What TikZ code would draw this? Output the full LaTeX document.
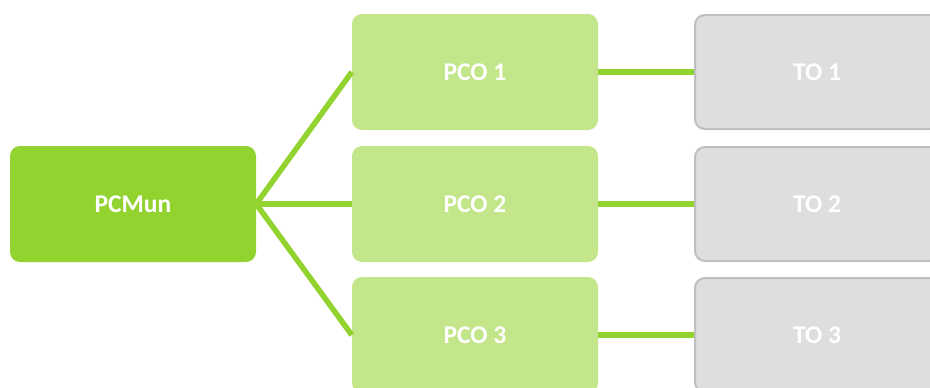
\documentclass[tikz,border=0pt]{standalone}
\usepackage{fontspec}
\setmainfont{Carlito}
\definecolor{mungreen}{HTML}{92D32F}
\definecolor{pcogreen}{HTML}{C3E68A}
\definecolor{tofill}{HTML}{DEDEDE}
\definecolor{toborder}{HTML}{BFBFBF}
\begin{document}
\begin{tikzpicture}[x=1pt,y=-1pt,
  box/.style={rounded corners=10pt,minimum width=246pt,minimum height=116pt,inner sep=0pt,text=white,font=\bfseries\fontsize{25.5}{30}\selectfont},
  munbox/.style={box,fill=mungreen},
  pcobox/.style={box,fill=pcogreen},
  tobox/.style={box,fill=tofill,draw=toborder,line width=2pt,minimum width=244pt,minimum height=114pt},
  link/.style={draw=mungreen,line width=5.5pt}]
\useasboundingbox (0,0) rectangle (930,388);
\node[munbox] (mun) at (133,204) {PCMun};
\node[pcobox] (p1) at (475,72) {PCO 1};
\node[pcobox] (p2) at (475,204) {PCO 2};
\node[pcobox] (p3) at (475,335) {PCO 3};
\node[tobox] (t1) at (817,72) {TO 1};
\node[tobox] (t2) at (817,204) {TO 2};
\node[tobox] (t3) at (817,335) {TO 3};
\draw[link] (mun.east) -- (p1.west);
\draw[link] (mun.east) -- (p2.west);
\draw[link] (mun.east) -- (p3.west);
\draw[link] (p1.east) -- (t1.west);
\draw[link] (p2.east) -- (t2.west);
\draw[link] (p3.east) -- (t3.west);
\end{tikzpicture}
\end{document}
